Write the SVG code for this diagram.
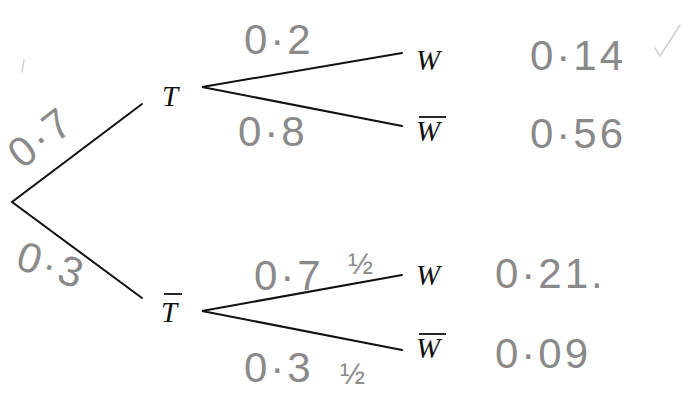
<svg xmlns="http://www.w3.org/2000/svg" width="688" height="395" viewBox="0 0 688 395">
<style>
.br{stroke:#111;stroke-width:2;fill:none;stroke-linecap:round}
.lbl{font-family:"Liberation Serif",serif;font-style:italic;font-size:29px;fill:#111}
.bar{stroke:#111;stroke-width:1.8}
.hw{font-family:"Liberation Sans",sans-serif;font-size:42px;fill:#8a8a8a;letter-spacing:3px}
.hs{font-family:"Liberation Sans",sans-serif;font-size:30px;fill:#8a8a8a}
.faint{stroke:#d0d0d0;stroke-width:1.5;fill:none;stroke-linecap:round}
</style>
<rect width="688" height="395" fill="#fff"/>
<g id="connectors">
<path class="br" d="M142,104 L12,202 L142,298"/>
<path class="br" d="M402,53 L202,87 L402,126"/>
<path class="br" d="M402,275 L202,311 L402,350"/>
</g>
<g id="node-T"><text class="lbl" x="162" y="106">T</text></g>
<g id="node-Tbar"><line class="bar" x1="164" y1="294" x2="182" y2="294"/><text class="lbl" x="161" y="322">T</text></g>
<g id="node-W1"><text class="lbl" x="416" y="70">W</text></g>
<g id="node-W1bar"><line class="bar" x1="419" y1="117" x2="446" y2="117"/><text class="lbl" x="416" y="141">W</text></g>
<g id="node-W2"><text class="lbl" x="416" y="285">W</text></g>
<g id="node-W2bar"><line class="bar" x1="419" y1="334" x2="446" y2="334"/><text class="lbl" x="416" y="358">W</text></g>
<g id="labels">
<text class="hw" transform="translate(22,170) rotate(-38)">0·7</text>
<text class="hw" transform="translate(14,268) rotate(18)">0·3</text>
<text class="hw" x="244" y="54">0·2</text>
<text class="hw" x="238" y="146">0·8</text>
<text class="hw" x="254" y="290">0·7</text>
<text class="hs" x="348" y="274">½</text>
<text class="hw" x="244" y="382">0·3</text>
<text class="hs" x="340" y="384">½</text>
<text class="hw" x="530" y="70">0·14</text>
<text class="hw" x="530" y="148">0·56</text>
<text class="hw" x="495" y="288">0·21.</text>
<text class="hw" x="495" y="368">0·09</text>
<path class="faint" d="M24,60 L22,72"/>
<path class="faint" d="M655,48 L660,56 L680,25"/>
</g>
</svg>
